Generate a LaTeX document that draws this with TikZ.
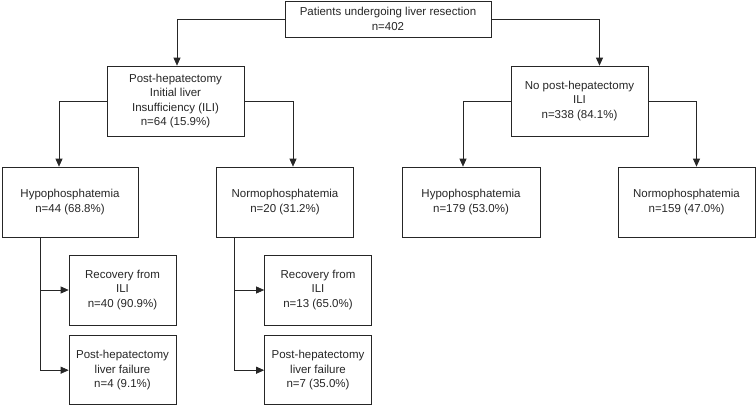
\documentclass[tikz,border=0pt]{standalone}
\usepackage{fontspec}
\setmainfont{Liberation Sans}
\usetikzlibrary{arrows.meta}
\usetikzlibrary{positioning}

\begin{document}
\begin{tikzpicture}[black!85, x=1pt, y=-1pt,
    box/.style = {draw, rectangle, align=center, inner sep=0pt,
        line width=0.7pt, font=\fontsize{11.5}{14.5}\selectfont},
    link/.style = {draw, line width=0.7pt, -{Triangle[length=8pt, width=7pt]}},
    trunk/.style = {draw, line width=0.7pt}]
    \useasboundingbox (0,0) rectangle (756,405);

    \node (all) at (388,19) [box, minimum width=206pt, minimum height=36pt]
        {Patients undergoing liver resection\\n=402};

    \node (ili) at (175.5,101) [box, minimum width=137pt, minimum height=70pt]
        {Post-hepatectomy\\Initial liver\\Insufficiency (ILI)\\n=64 (15.9\%)};
    \node (noili) at (579.5,101) [box, minimum width=137pt, minimum height=70pt]
        {No post-hepatectomy\\ILI\\n=338 (84.1\%)};

    \node (hypoL) at (70,202) [box, minimum width=136pt, minimum height=70pt]
        {Hypophosphatemia\\n=44 (68.8\%)};
    \node (normoL) at (285,202) [box, minimum width=137pt, minimum height=70pt]
        {Normophosphatemia\\n=20 (31.2\%)};
    \node (hypoR) at (471,202) [box, minimum width=138pt, minimum height=70pt]
        {Hypophosphatemia\\n=179 (53.0\%)};
    \node (normoR) at (686.5,202) [box, minimum width=137pt, minimum height=70pt]
        {Normophosphatemia\\n=159 (47.0\%)};

    \node (recL) at (122.5,290) [box, minimum width=107pt, minimum height=70pt]
        {Recovery from\\ILI\\n=40 (90.9\%)};
    \node (phlfL) [box, minimum width=107pt, minimum height=69pt, below=10pt of recL]
        {Post-hepatectomy\\liver failure\\n=4 (9.1\%)};
    \node (recR) at (318,290) [box, minimum width=107pt, minimum height=70pt]
        {Recovery from\\ILI\\n=13 (65.0\%)};
    \node (phlfR) [box, minimum width=107pt, minimum height=69pt, below=10pt of recR]
        {Post-hepatectomy\\liver failure\\n=7 (35.0\%)};

    % first split
    \draw[link] (all.west) -| ([xshift=1.5pt]ili.north);
    \draw[link] (all.east) -| ([xshift=20pt]noili.north);

    \draw[link] (ili.west) -| ([xshift=-11pt]hypoL.north);
    \draw[link] (ili.east) -| ([xshift=8pt]normoL.north);
    \draw[link] (noili.west) -| ([xshift=-8pt]hypoR.north);
    \draw[link] (noili.east) -| ([xshift=10pt]normoR.north);

    % outcomes
    \coordinate (tL) at ([xshift=-30pt]hypoL.south);
    \coordinate (tR) at ([xshift=-51pt]normoL.south);

    \draw[trunk] (tL) -- (tL |- phlfL.west);
    \draw[link] (tL |- recL.west) -- (recL.west);
    \draw[link] (tL |- phlfL.west) -- (phlfL.west);

    \draw[trunk] (tR) -- (tR |- phlfR.west);
    \draw[link] (tR |- recR.west) -- (recR.west);
    \draw[link] (tR |- phlfR.west) -- (phlfR.west);

\end{tikzpicture}
\end{document}
